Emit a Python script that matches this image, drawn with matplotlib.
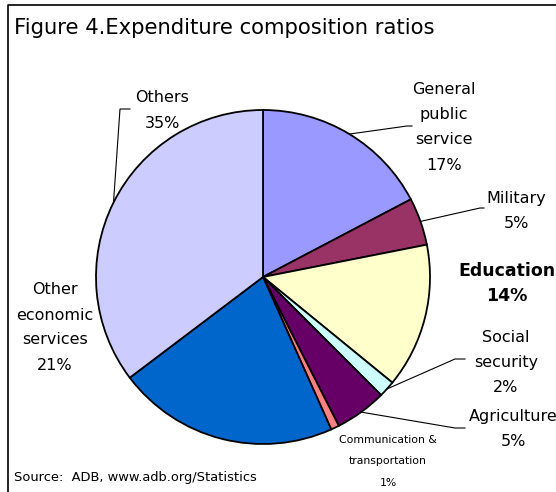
import numpy as np
import matplotlib
matplotlib.use("Agg")
import matplotlib.pyplot as plt

plt.rcParams['font.family'] = ['DejaVu Sans']

categories = ["General\npublic\nservice", "Military", "Education", "Social\nsecurity",
              "Agriculture", "Communication &\ntransportation", "Other\neconomic\nservices", "Others"]
values = [17.3, 4.6, 14.0, 1.6, 5.0, 0.8, 21.4, 35.3]
pct_labels = ["17%", "5%", "14%", "2%", "5%", "1%", "21%", "35%"]
colors = ["#9999FF", "#993366", "#FFFFCC", "#CCFFFF", "#660066", "#FF8080", "#0066CC", "#CCCCFF"]

W, H = 556, 492
fig = plt.figure(figsize=(W / 100, H / 100), dpi=100)
ax = fig.add_axes([0, 0, 1, 1])

cx, cy, R = 263, 277, 167
def Y(y):
    return H - y

wedges, _ = ax.pie(values, colors=colors, startangle=90, counterclock=False,
                   center=(cx, Y(cy)), radius=R,
                   wedgeprops=dict(edgecolor='black', linewidth=1.3))
ax.set_xlim(0, W)
ax.set_ylim(0, H)
ax.set_aspect('equal')
ax.axis('off')

# frame
ax.plot([8, 8, W], [0, Y(5), Y(5)], color='black', lw=1.2, clip_on=False)

ax.text(14, Y(28), "Figure 4.Expenditure composition ratios", fontsize=15.2,
        ha='left', va='center')
ax.text(14, Y(477), "Source:  ADB, www.adb.org/Statistics", fontsize=9.4,
        ha='left', va='center')

def label(x, y0, lines, dy=25, fs=11.5, weight='normal'):
    for i, ln in enumerate(lines):
        ax.text(x, Y(y0 + i * dy), ln, ha='center', va='center', fontsize=fs,
                fontweight=weight)

# label positions (center x, first line y)
pos = {
    0: (444, 90), 1: (516, 198), 2: (507, 271), 3: (506, 337),
    4: (513, 417), 5: (388, 440), 6: (55, 290), 7: (162, 98),
}
for i, cat in enumerate(categories):
    lines = cat.split("\n") + [pct_labels[i]]
    x, y0 = pos[i]
    if i == 5:
        label(x, y0, lines, dy=21.5, fs=7.8)
    elif i == 2:
        label(x, y0, lines, fs=12.5, weight='bold')
    else:
        label(x, y0, lines)

# leader lines from wedge mid-edge to label
leaders = {0: [(407, 126), (412, 126)], 1: [(480, 208), (484, 208)],
           3: [(455, 359), (465, 359)], 4: [(455, 428), (465, 428)],
           7: [(120, 109), (130, 109)]}
for i, pts in leaders.items():
    w = wedges[i]
    mid = np.deg2rad((w.theta1 + w.theta2) / 2)
    sx = cx + R * np.cos(mid)
    sy = Y(cy) + R * np.sin(mid)
    xs = [sx] + [p[0] for p in pts]
    ys = [sy] + [Y(p[1]) for p in pts]
    ax.plot(xs, ys, color='black', lw=0.8)

fig.savefig("out.png", dpi=100)
